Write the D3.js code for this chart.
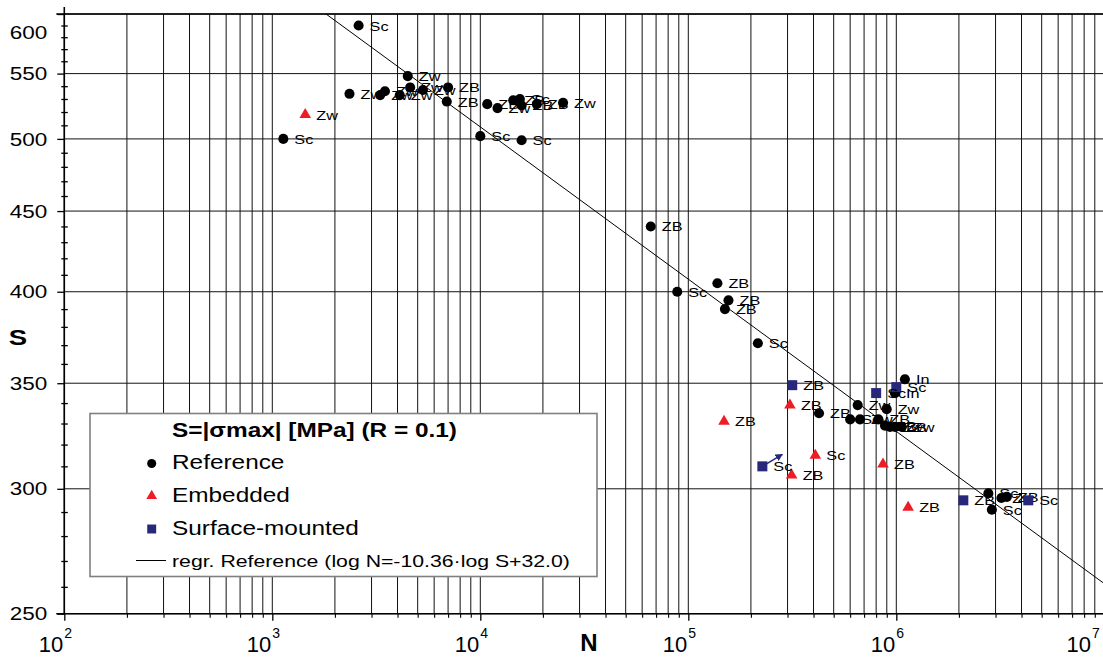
<!DOCTYPE html>
<html>
<head>
<meta charset="utf-8">
<script src="https://cdn.jsdelivr.net/npm/d3@7"></script>
<style>
  body { margin: 0; background: #fff; }
  svg { display: block; }
  text { font-family: "Liberation Sans", Arial, Helvetica, sans-serif; fill: #000; }
</style>
</head>
<body>
<svg id="chart" width="1103" height="657"></svg>
<script>
// Fatigue results: cycles to failure N against max stress S (R = 0.1)

// Reference specimens
const refN = [2600, 4480, 2350, 3300, 3480, 4100, 4600, 5300, 7000, 6900,
              10800, 12100, 14400, 15500, 15800, 18700, 25000, 1130, 10000, 15800,
              66000, 88500, 138000, 156000, 150000, 216000,
              1100000, 985000, 652000, 899000, 425000, 600000, 669000, 820000, 882000, 933000, 986000, 1062000,
              2770000, 2880000, 3200000, 3400000];
const refS = [590, 548, 534, 533, 536, 533, 539, 537, 539, 528,
              526, 523, 529, 530, 525, 526, 527, 500, 502, 499,
              440, 400, 405, 395, 390, 371,
              352, 345, 339, 337, 335, 332, 332, 332, 329, 328.4, 328.4, 328.4,
              298, 291, 296, 296.5];
const refLabel = ["Sc", "Zw", "Zw", "Zw", "Zw", "Zw", "Zw", "Zw", "ZB", "ZB",
                  "ZB", "Zw", "ZB", "Sc", "ZB", "ZB", "Zw", "Sc", "Sc", "Sc",
                  "ZB", "Sc", "ZB", "ZB", "ZB", "Sc",
                  "In", "In", "Zw", "Zw", "ZB", "Sc", "Zw", "ZB", "ZB", "Zw", "ZB", "Zw",
                  "Sc", "Sc", "Zw", "ZB"];

// Embedded sensors
const embN = [1440, 148500, 308000, 408000, 314000, 863000, 1140000];
const embS = [518, 331, 339, 315, 306, 311, 292];
const embLabel = ["Zw", "ZB", "ZB", "Sc", "ZB", "ZB", "ZB"];

// Surface-mounted sensors
const surfN = [316000, 227000, 800000, 1000000, 2100000, 4310000];
const surfS = [349, 310, 345, 348, 295, 295];
const surfLabel = ["ZB", "Sc", "Sc", "Sc", "ZB", "Sc"];
const surfRunout = [false, true, false, false, false, false];

// Regression of the reference series: log N = slope * log S + intercept
const regSlope = -10.36;
const regIntercept = 32.04;

// Axis ticks
const yTicks = [250, 300, 350, 400, 450, 500, 550, 600];
const xDecades = [2, 3, 4, 5, 6, 7];

const W = 1103;
const SX = 1.25;          // horizontal text stretch of the sheet
const COL_REF = "#000000";
const COL_EMB = "#ee1c25";
const COL_SURF = "#28287a";

const svg = d3.select("#chart");
const x = d3.scaleLog().domain([1e2, 1e7]).range([64.3, 1104.3]);
const y = d3.scaleLog().domain([250, 600]).range([613.7, 14]);
const [x0, x1] = x.range();
const [yb, yt] = y.range();

function stretched(sel, px, py, str) {
  return sel.append("text")
    .attr("transform", `translate(${px},${py}) scale(${SX},1)`)
    .text(str);
}

// ---- grid ----
const xGrid = [];
for (const d of xDecades.slice(0, -1)) for (let k = 1; k < 10; k++) xGrid.push(k * Math.pow(10, d));
xGrid.push(1e7);

const grid = svg.append("g").attr("stroke", "#111").attr("stroke-width", 1);
grid.selectAll("line.v").data(xGrid).join("line").attr("class", "v")
  .attr("x1", d => x(d)).attr("x2", d => x(d)).attr("y1", yt).attr("y2", yb);
grid.selectAll("line.h").data(yTicks).join("line").attr("class", "h")
  .attr("x1", x0).attr("x2", x1).attr("y1", d => y(d)).attr("y2", d => y(d));

// ---- axes ----
const yMinor = d3.range(260, 600, 10).filter(v => v % 50 !== 0);
const yAxisG = svg.append("g").attr("transform", `translate(${x0},0)`)
  .call(d3.axisLeft(y).tickValues(yTicks).tickSize(7).tickPadding(10).tickFormat(d3.format("d")));
yAxisG.select(".domain").remove();
yAxisG.selectAll(".tick line").attr("x1", 0).attr("x2", -7).attr("stroke", "#000").attr("stroke-width", 1.3);
yAxisG.selectAll(".tick text")
  .attr("font-size", 18)
  .attr("x", -17 / SX)
  .attr("transform", `scale(${SX},1)`)
  .attr("dy", d => d === yTicks[yTicks.length - 1] ? "1.38em" : "0.34em");

const yMinorG = svg.append("g").attr("transform", `translate(${x0},0)`)
  .call(d3.axisLeft(y).tickValues(yMinor).tickSize(3).tickFormat(""));
yMinorG.select(".domain").remove();
yMinorG.selectAll(".tick line").attr("x1", -3).attr("x2", 3.5).attr("stroke", "#000").attr("stroke-width", 1.3);

svg.append("line").attr("x1", x0).attr("x2", x0).attr("y1", 7).attr("y2", yb + 1)
  .attr("stroke", "#000").attr("stroke-width", 1.6);
svg.append("line").attr("x1", x0 - 8).attr("x2", x1).attr("y1", yt).attr("y2", yt)
  .attr("stroke", "#000").attr("stroke-width", 1.4);

const xMajor = xDecades.map(d => Math.pow(10, d));
const xAxisG = svg.append("g").attr("transform", `translate(0,${yb})`)
  .call(d3.axisBottom(x).tickValues(xMajor).tickSize(7).tickFormat(""));
xAxisG.select(".domain").remove();
xAxisG.selectAll(".tick line").attr("stroke", "#000").attr("stroke-width", 1.3);
const xMinorG = svg.append("g").attr("transform", `translate(0,${yb})`)
  .call(d3.axisBottom(x).tickValues(xGrid.filter(v => !xMajor.includes(v))).tickSize(4).tickFormat(""));
xMinorG.select(".domain").remove();
xMinorG.selectAll(".tick line").attr("stroke", "#000").attr("stroke-width", 1.1);
svg.append("line").attr("x1", x0 - 8).attr("x2", x1).attr("y1", yb).attr("y2", yb)
  .attr("stroke", "#000").attr("stroke-width", 1.6);

// decade labels 10^n (the last one is pulled inside the sheet edge)
const xLab = svg.append("g");
xDecades.forEach(d => {
  const px = Math.min(x(Math.pow(10, d)), W - 11);
  xLab.append("text").attr("x", px - 1).attr("y", 652).attr("text-anchor", "end")
    .attr("font-size", 22).text("10");
  xLab.append("text").attr("x", px).attr("y", 638).attr("font-size", 14).text(d);
});

// axis titles
stretched(svg, 18, 345, "S").attr("font-size", 22).attr("font-weight", "bold").attr("text-anchor", "middle");
svg.append("text").attr("x", 589).attr("y", 651).attr("font-size", 24).attr("font-weight", "bold")
  .attr("text-anchor", "middle").text("N");

// ---- regression line ----
svg.append("clipPath").attr("id", "plotClip").append("rect")
  .attr("x", x0).attr("y", yt).attr("width", x1 - x0).attr("height", yb - yt);
const regN = s => Math.pow(10, regIntercept + regSlope * Math.log10(s));
svg.append("line")
  .attr("clip-path", "url(#plotClip)")
  .attr("x1", x(regN(600))).attr("y1", y(600))
  .attr("x2", x(regN(250))).attr("y2", y(250))
  .attr("stroke", "#000").attr("stroke-width", 1);

// ---- data points ----
const circleSym = d3.symbol().type(d3.symbolCircle).size(80);
const triSym = d3.symbol().type(d3.symbolTriangle).size(58);
const sqSym = d3.symbol().type(d3.symbolSquare).size(100);

function series(N, S, L, sym, color) {
  const g = svg.append("g");
  const pts = N.map((n, i) => ({ n, s: S[i], label: L[i] }));
  g.selectAll("path").data(pts).join("path")
    .attr("d", sym)
    .attr("transform", d => `translate(${x(d.n)},${y(d.s)})`)
    .attr("fill", color);
  pts.forEach(d => {
    stretched(g, x(d.n) + 11, y(d.s) + 5, d.label).attr("font-size", 13);
  });
  return g;
}

series(refN, refS, refLabel, circleSym, COL_REF);
series(embN, embS, embLabel, triSym, COL_EMB);
const surfG = series(surfN, surfS, surfLabel, sqSym, COL_SURF);

// run-out arrows for specimens that did not fail
svg.append("defs").append("marker").attr("id", "arrowHead")
  .attr("viewBox", "0 0 10 10").attr("refX", 9).attr("refY", 5)
  .attr("markerWidth", 5).attr("markerHeight", 5).attr("orient", "auto")
  .append("path").attr("d", "M0,0L10,5L0,10z").attr("fill", COL_SURF);
surfN.forEach((n, i) => {
  if (!surfRunout[i]) return;
  surfG.append("line")
    .attr("x1", x(n)).attr("y1", y(surfS[i]))
    .attr("x2", x(n) + 20).attr("y2", y(surfS[i]) - 12)
    .attr("stroke", COL_SURF).attr("stroke-width", 1.5)
    .attr("marker-end", "url(#arrowHead)");
});

// ---- legend ----
const lg = svg.append("g");
lg.append("rect").attr("x", 90).attr("y", 413.5).attr("width", 507).attr("height", 163)
  .attr("fill", "#fff").attr("stroke", "#808080").attr("stroke-width", 1.6);
stretched(lg, 172, 437, `S=|σmax| [MPa] (R = 0.1)`).attr("font-size", 19.5).attr("font-weight", "bold");

const legendItems = [
  { sym: d3.symbol().type(d3.symbolCircle).size(64), color: COL_REF, text: "Reference", cy: 463.5, by: 469 },
  { sym: d3.symbol().type(d3.symbolTriangle).size(50), color: COL_EMB, text: "Embedded", cy: 496, by: 502 },
  { sym: d3.symbol().type(d3.symbolSquare).size(80), color: COL_SURF, text: "Surface-mounted", cy: 529, by: 535 }
];
legendItems.forEach(it => {
  lg.append("path").attr("d", it.sym).attr("fill", it.color)
    .attr("transform", `translate(151.7,${it.cy})`);
  stretched(lg, 172, it.by, it.text).attr("font-size", 19.5);
});
lg.append("line").attr("x1", 136).attr("x2", 166).attr("y1", 560.5).attr("y2", 560.5)
  .attr("stroke", "#000").attr("stroke-width", 1);
stretched(lg, 172, 567,
  `regr. Reference (log N=${regSlope.toFixed(2)}·log S+${regIntercept.toFixed(1)})`)
  .attr("font-size", 17);
</script>
</body>
</html>
